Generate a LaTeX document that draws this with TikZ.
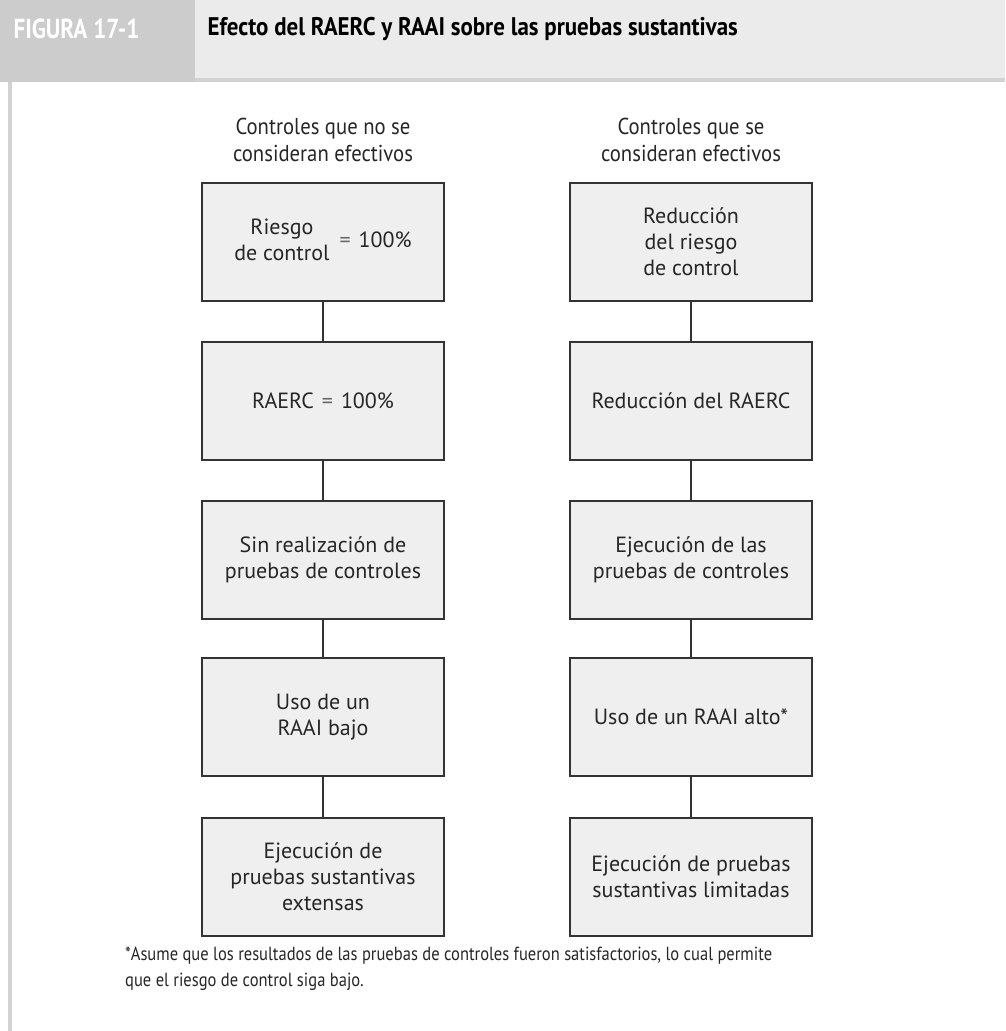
\documentclass[tikz,border=0pt]{standalone}
\usepackage{fontspec}
\setmainfont{PT Sans}
\newfontfamily\condfont[FakeStretch=0.84]{PT Sans}
\newfontfamily\headfont[FakeStretch=0.9]{PT Sans}
\newfontfamily\notefont[FakeStretch=0.87]{PT Sans}
\newfontfamily\titlefont[FakeStretch=0.9]{PT Sans}
\definecolor{boxline}{HTML}{333333}
\definecolor{boxfill}{HTML}{EFEFEF}
\definecolor{headlight}{HTML}{EBEBEB}
\definecolor{headdark}{HTML}{CCCCCC}
\definecolor{rule}{HTML}{D2D2D2}
\begin{document}
\begin{tikzpicture}[x=1pt,y=-1pt,
  box/.style={draw=boxline, line width=1.7, fill=boxfill, minimum width=242, minimum height=118,
    align=center, inner sep=0, font=\fontsize{22}{26}\selectfont, text=black!85},
  link/.style={draw=boxline, line width=1.2},
  colhead/.style={align=center, font=\headfont\fontsize{23}{27}\selectfont, text=black!85},
]
\useasboundingbox (0,0) rectangle (1005,1031);
% header
\fill[headlight] (0,0) rectangle (1005,79);
\fill[rule] (195,78) rectangle (1005,82);
\fill[headdark] (0,0) rectangle (195,82);
\fill[rule] (8,82) rectangle (12,1031);
\node[anchor=west, text=white, font=\condfont\bfseries\fontsize{27.5}{30}\selectfont] (fig) at (10,29) {FIGURA 17-1};
\node[anchor=west, text=black, font=\titlefont\bfseries\fontsize{25.5}{28}\selectfont] (title) at (204,29) {Efecto del RAERC y RAAI sobre las pruebas sustantivas};
% column headers
\node[colhead] (hl) at (323,140) {Controles que no se\\consideran efectivos};
\node[colhead] (hr) at (691,140) {Controles que se\\consideran efectivos};
% left column
\node[box] (l1) at (323,242) {\begin{tabular}{@{}c@{}}Riesgo\\de control\end{tabular}\hspace{10pt}{\color{black!60}=}\hspace{8pt}100\%};
\node[box] (l2) at (323,401) {RAERC\hspace{8pt}{\color{black!60}=}\hspace{8pt}100\%};
\node[box] (l3) at (323,560) {Sin realización de\\pruebas de controles};
\node[box] (l4) at (323,717) {Uso de un\\RAAI bajo};
\node[box] (l5) at (323,877) {Ejecución de\\pruebas sustantivas\\extensas};
% right column
\node[box] (r1) at (691,242) {Reducción\\del riesgo\\de control};
\node[box] (r2) at (691,401) {Reducción del RAERC};
\node[box] (r3) at (691,560) {Ejecución de las\\pruebas de controles};
\node[box] (r4) at (691,717) {Uso de un RAAI alto*};
\node[box] (r5) at (691,877) {Ejecución de pruebas\\sustantivas limitadas};
% connectors
\foreach \a/\b in {l1/l2,l2/l3,l3/l4,l4/l5,r1/r2,r2/r3,r3/r4,r4/r5}
  \draw[link] (\a.south) -- (\b.north);
% footnote
\node[anchor=north west, align=left, font=\notefont\fontsize{19}{26}\selectfont, text=black!85, inner sep=0] (note) at (125,947)
  {*Asume que los resultados de las pruebas de controles fueron satisfactorios, lo cual permite\\que el riesgo de control siga bajo.};
\end{tikzpicture}
\end{document}
